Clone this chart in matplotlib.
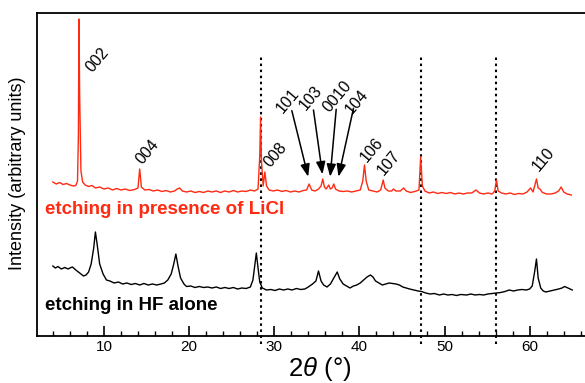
import matplotlib
matplotlib.use("Agg")
from matplotlib import pyplot as plt
from matplotlib.ticker import MultipleLocator

plt.rcParams["font.family"] = ["Liberation Sans", "DejaVu Sans"]
plt.rcParams["mathtext.fontset"] = "custom"
plt.rcParams["mathtext.it"] = "Liberation Sans:italic"
plt.rcParams["mathtext.rm"] = "Liberation Sans"

# etching in presence of LiCl (red)
licl_x = [4.0, 4.4, 4.8, 5.2, 5.6, 6.0, 6.4, 6.7, 6.9, 7.0, 7.07, 7.15, 7.3, 7.5, 7.8,
          8.2, 8.6, 9.0, 9.5, 10.0, 10.5, 11.0, 11.5, 12.0, 12.5, 13.0, 13.6, 14.0, 14.2,
          14.4, 14.8, 15.3, 15.8, 16.3, 16.8, 17.3, 17.8, 18.3, 18.6, 18.9, 19.2, 19.7,
          20.2, 20.7, 21.2, 21.7, 22.2, 22.7, 23.2, 23.7, 24.2, 24.7, 25.2, 25.7, 26.2,
          26.7, 27.2, 27.7, 28.1, 28.3, 28.4, 28.5, 28.7, 28.9, 29.1, 29.4, 29.9, 30.4,
          30.9, 31.4, 31.9, 32.4, 32.9, 33.4, 33.8, 34.1, 34.4, 34.8, 35.2, 35.5, 35.7,
          35.9, 36.1, 36.4, 36.6, 36.8, 37.0, 37.2, 37.6, 38.1, 38.6, 39.1, 39.6, 40.1,
          40.4, 40.6, 40.8, 41.1, 41.6, 42.1, 42.5, 42.8, 43.0, 43.4, 43.8, 44.0, 44.3,
          44.8, 45.2, 45.5, 46.0, 46.5, 47.0, 47.2, 47.4, 47.7, 48.2, 48.7, 49.2, 49.7,
          50.2, 50.7, 51.2, 51.7, 52.2, 52.7, 53.2, 53.7, 54.1, 54.6, 55.1, 55.6, 55.9,
          56.1, 56.3, 56.7, 57.2, 57.7, 58.2, 58.7, 59.2, 59.7, 60.1, 60.4, 60.8, 61.0,
          61.2, 61.5, 62.0, 62.5, 63.0, 63.4, 63.7, 64.0, 64.4, 64.9]
licl_y = [154, 152, 153.5, 151.5, 152.5, 151, 150, 150.5, 155, 200, 317, 240, 165, 154, 151,
          149.5, 150.5, 148, 149, 147, 148, 146, 147.5, 146, 147, 145.5, 146.5, 148, 167,
          149, 146, 146.5, 145, 146, 144.5, 145.5, 144, 145, 147, 148, 145, 144,
          145, 143.5, 144.5, 143.5, 145, 144, 145, 143.5, 145, 144, 145.5, 144, 145,
          144.5, 146, 145, 147, 180, 219, 175, 150, 164, 150, 146, 145, 146,
          144.5, 145.5, 144, 145, 144, 145.5, 146, 152, 146, 145, 147, 150, 157,
          149, 147, 151, 147, 148, 152, 147, 145, 144.5, 145, 144, 145, 146,
          155, 171, 155, 146, 145, 144, 146, 156, 148, 145, 145, 147, 145,
          145, 148, 145, 143.5, 144.5, 146, 179, 150, 145, 143, 144, 142.5, 143.5,
          142.5, 143.5, 142, 143, 142, 143, 143, 146, 143, 142, 143, 142, 145,
          156, 145, 143, 142, 143, 141.5, 142.5, 142, 144, 148, 144, 157, 148,
          147, 143.5, 142, 142, 143, 145, 149, 144, 142, 141]

# etching in HF alone (black)
hf_x = [4.0, 4.3, 4.6, 5.0, 5.4, 5.8, 6.0, 6.3, 6.7, 7.0, 7.3, 7.6, 7.9, 8.2, 8.5, 8.8,
        9.0, 9.2, 9.5, 9.9, 10.3, 10.7, 11.2, 11.7, 12.2, 12.7, 13.2, 13.7, 14.2, 14.7,
        15.2, 15.7, 16.2, 16.7, 17.1, 17.5, 17.9, 18.2, 18.45, 18.7, 19.0, 19.4, 19.7,
        20.2, 20.7, 21.2, 21.7, 22.2, 22.7, 23.2, 23.7, 24.2, 24.7, 25.2, 25.7, 26.2,
        26.7, 27.2, 27.5, 27.75, 27.9, 28.1, 28.3, 28.6, 29.1, 29.6, 30.1, 30.6, 31.1,
        31.6, 32.1, 32.6, 33.1, 33.6, 34.0, 34.5, 34.9, 35.2, 35.5, 35.8, 36.2, 36.6,
        37.0, 37.4, 37.7, 38.1, 38.5, 38.9, 39.3, 39.7, 40.1, 40.5, 40.9, 41.3, 41.6,
        41.9, 42.3, 42.7, 43.1, 43.5, 43.9, 44.3, 44.7, 45.1, 45.5, 45.9, 46.4, 46.9,
        47.3, 47.8, 48.3, 48.8, 49.4, 49.9, 50.4, 50.9, 51.4, 51.9, 52.6, 53.1, 53.6,
        54.1, 54.6, 55.1, 55.6, 56.1, 56.6, 57.1, 57.6, 58.1, 58.6, 59.1, 59.6, 60.0,
        60.3, 60.6, 60.8, 61.0, 61.3, 61.6, 61.9, 62.4, 62.9, 63.4, 63.8, 64.1, 64.5, 65.0]
hf_y = [70, 68, 69.5, 67, 68.5, 67, 68, 69, 66, 64, 62, 60, 61, 64, 72, 88,
        104, 92, 72, 62, 56, 55, 53, 54, 52, 53, 51.5, 52.5, 51, 52.5,
        51, 52, 51, 52, 53, 56, 62, 72, 82, 70, 58, 52, 49.5,
        50, 48.5, 49.5, 48.5, 49, 48, 49, 47.5, 48.5, 47.5, 48.5, 47, 48,
        47.5, 49, 56, 73, 83, 68, 54, 48, 46, 46.5, 45.5, 47, 46,
        47, 46, 47.5, 46.5, 47, 49, 52, 55, 65, 55, 51, 49, 52,
        58, 64, 57, 52, 50, 48, 50, 51, 53, 56, 59, 61, 59,
        55, 53, 51, 52, 53, 52.5, 52, 51, 49, 48, 47, 46, 45,
        44.5, 43, 42, 42.5, 41, 42, 41, 41.5, 40.5, 41.5, 41, 42, 41,
        41.5, 41, 42, 42.5, 43, 43.5, 44.5, 46, 45, 46, 46.5, 46, 47,
        50, 65, 77, 58, 48, 45, 44, 45, 46, 47, 48, 49.5, 48, 46]

ref_lines = [28.4, 47.25, 56.1]

peak_labels = ["002", "004", "008", "106", "107", "110"]
arrow_labels = ["101", "103", "0010", "104"]
arrow_tips = [(33.99, 159.3), (35.67, 161.7), (36.57, 159.3), (37.55, 159.3)]

fig = plt.figure(figsize=(5.85, 3.83), dpi=100)
ax = fig.add_axes([37 / 585, 47 / 383, 1 - 37 / 585, 323 / 383])

for xv in ref_lines:
    ax.axvline(xv, ymin=-0.024, ymax=0.865, color="black", lw=1.5,
               linestyle=(0, (1.2, 1.7)), clip_on=False, zorder=1)

ax.plot(licl_x, licl_y, color="#ff2a12", lw=1.0, zorder=3)
ax.plot(hf_x, hf_y, color="black", lw=1.0, zorder=3)

# hkl labels next to peaks
label_pos = [(9.19, 276), (15.07, 184), (30.11, 181), (41.47, 186), (43.43, 172.7), (61.64, 176.7)]
for lab, (lx, ly) in zip(peak_labels, label_pos):
    ax.text(lx, ly, lab, rotation=50, ha="center", va="center",
            rotation_mode="anchor", fontsize=11.5)

arrow_text_pos = [(31.64, 235), (34.34, 238), (37.36, 239.3), (39.71, 234.3)]
arrow_start = [(32.07, 225.3), (34.61, 226), (37.28, 226.7), (39.31, 227.7)]
for lab, (tx, ty), st, tip in zip(arrow_labels, arrow_text_pos, arrow_start, arrow_tips):
    ax.text(tx, ty, lab, rotation=50, ha="center", va="center",
            rotation_mode="anchor", fontsize=11.5)
    ax.annotate("", xy=tip, xytext=st,
                arrowprops=dict(arrowstyle="-|>,head_length=0.75,head_width=0.28",
                                color="black", lw=1.1, shrinkA=0, shrinkB=0))

ax.text(3.1, 336 - 209, "etching in presence of LiCl", color="#ff2a12",
        fontsize=13.5, fontweight="bold", va="center", zorder=4,
        bbox=dict(facecolor="white", edgecolor="none", pad=1))
ax.text(3.1, 336 - 306, "etching in HF alone", color="black",
        fontsize=13.5, fontweight="bold", va="center", zorder=4)

ax.set_xlim(2.14, 66.5)
ax.set_ylim(0, 323)
ax.set_yticks([])
ax.xaxis.set_major_locator(MultipleLocator(10))
ax.xaxis.set_minor_locator(MultipleLocator(2))
ax.tick_params(axis="x", which="major", direction="in", length=7, width=1.2,
               labelsize=11, pad=3)
ax.tick_params(axis="x", which="minor", direction="in", length=3.5, width=1)
ax.spines["right"].set_visible(False)
for s in ["left", "bottom", "top"]:
    ax.spines[s].set_linewidth(1.3)

fig.text(319.5 / 585, 7 / 383, "2$\\theta$ (°)", fontsize=18.5, ha="center", va="baseline")
fig.text(18 / 585, 1 - 173.5 / 383, "Intensity (arbitrary units)", fontsize=13,
         rotation=90, ha="center", va="center")

fig.savefig("out.png", dpi=100)
